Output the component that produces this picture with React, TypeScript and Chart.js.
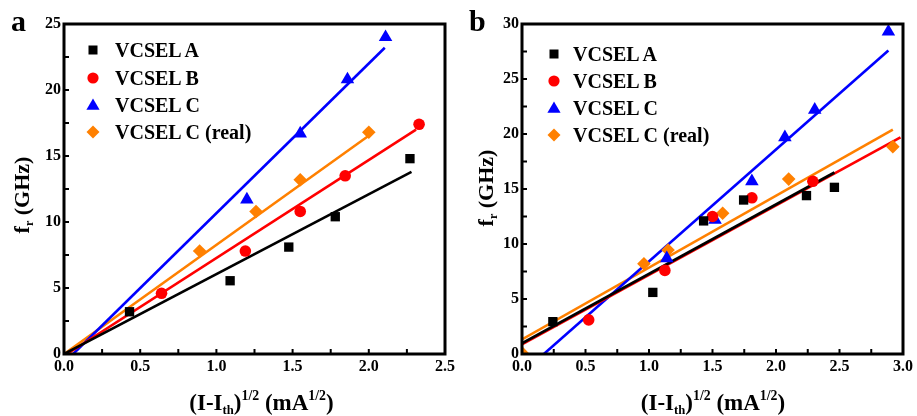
import React, { useEffect, useRef } from "react";
import { Chart, registerables } from "chart.js";

Chart.register(...registerables);

// ---------- data ----------
const seriesNames = ["VCSEL A", "VCSEL B", "VCSEL C", "VCSEL C (real)"];
const seriesColors = ["#000000", "#ff0000", "#0000ff", "#ff8000"];

// panel a : measured points
const aAx = [0.43, 1.09, 1.475, 1.78, 2.27];
const aAy = [3.2, 5.55, 8.1, 10.4, 14.8];
const aBx = [0.64, 1.19, 1.55, 1.845, 2.33];
const aBy = [4.6, 7.8, 10.8, 13.5, 17.4];
const aCx = [1.2, 1.55, 1.86, 2.11];
const aCy = [11.7, 16.7, 20.8, 24.0];
const aRx = [0.89, 1.26, 1.55, 2.0];
const aRy = [7.8, 10.8, 13.2, 16.8];
// panel a : linear fits (start/end)
const aFitAx = [0.0, 2.28];
const aFitAy = [0.0, 13.8];
const aFitBx = [0.02, 2.31];
const aFitBy = [0.0, 17.0];
const aFitCx = [0.06, 2.105];
const aFitCy = [0.0, 23.2];
const aFitRx = [0.0, 2.02];
const aFitRy = [0.0, 16.7];

// panel b : measured points
const bAx = [0.243, 1.03, 1.43, 1.745, 2.24, 2.46];
const bAy = [2.94, 5.6, 12.1, 14.0, 14.4, 15.15];
const bBx = [0.525, 1.125, 1.5, 1.81, 2.29];
const bBy = [3.1, 7.6, 12.5, 14.2, 15.7];
const bCx = [1.14, 1.52, 1.81, 2.07, 2.305, 2.885];
const bCy = [8.7, 12.2, 15.7, 19.7, 22.2, 29.3];
const bRx = [0.0, 0.96, 1.15, 1.58, 2.1, 2.92];
const bRy = [0.1, 8.2, 9.45, 12.8, 15.9, 18.85];
// panel b : linear fits
const bFitAx = [0.0, 2.46];
const bFitAy = [0.97, 16.5];
const bFitBx = [0.0, 2.98];
const bFitBy = [0.88, 19.7];
const bFitCx = [0.172, 2.885];
const bFitCy = [0.0, 27.6];
const bFitRx = [0.0, 2.92];
const bFitRy = [1.33, 20.4];

// axes
const aXMax = 2.5;
const bXMax = 3.0;
const aYMax = 25;
const bYMax = 30;

const pointStyles = ["rect", "circle", "triangle", "rectRot"];
const pointRadii = [6.6, 5.8, 7.8, 6.8];

const zip = (xs: number[], ys: number[]) => xs.map((x, i) => ({ x, y: ys[i] }));

const framePlugin = {
  id: "frame",
  afterDatasetsDraw(chart: any) {
    const { ctx, chartArea: a, scales } = chart;
    const xs = scales.x;
    const ys = scales.y;
    ctx.save();
    ctx.strokeStyle = "#000";
    ctx.lineWidth = 2;
    ctx.beginPath();
    for (let v = xs.min; v <= xs.max + 1e-9; v += 0.25) {
      const px = xs.getPixelForValue(v);
      ctx.moveTo(px, a.bottom);
      ctx.lineTo(px, a.bottom - 5);
    }
    for (let v = ys.min; v <= ys.max + 1e-9; v += 2.5) {
      const py = ys.getPixelForValue(v);
      ctx.moveTo(a.left, py);
      ctx.lineTo(a.left + 5, py);
    }
    ctx.stroke();
    ctx.lineWidth = 3;
    ctx.strokeRect(a.left, a.top, a.right - a.left, a.bottom - a.top);
    ctx.restore();
  },
};

type PanelData = {
  pts: [number[], number[]][];
  fits: [number[], number[]][];
  xMax: number;
  yMax: number;
};

function PanelChart({ d, left }: { d: PanelData; left: number }) {
  const ref = useRef<HTMLCanvasElement | null>(null);
  useEffect(() => {
    if (!ref.current) return;
    const datasets: any[] = [];
    d.pts.forEach(([xs, ys], i) => {
      datasets.push({
        label: seriesNames[i],
        data: zip(xs, ys),
        showLine: false,
        pointStyle: pointStyles[i],
        pointRadius: pointRadii[i],
        pointBackgroundColor: seriesColors[i],
        pointBorderColor: seriesColors[i],
        pointBorderWidth: 0,
        order: 0,
        clip: 0,
      });
    });
    d.fits.forEach(([xs, ys], i) => {
      datasets.push({
        label: seriesNames[i] + " fit",
        data: zip(xs, ys),
        showLine: true,
        borderColor: seriesColors[i],
        borderWidth: 2.6,
        pointRadius: 0,
        order: 1,
        clip: 0,
      });
    });
    const tickFont = { family: "'Liberation Serif', serif", size: 16, weight: "bold" as const };
    const chart = new Chart(ref.current, {
      type: "scatter",
      data: { datasets },
      options: {
        animation: false,
        responsive: false,
        maintainAspectRatio: false,
        layout: { padding: { top: 24, right: 11, left: 0, bottom: 0 } },
        plugins: { legend: { display: false }, tooltip: { enabled: false } },
        scales: {
          x: {
            type: "linear",
            min: 0,
            max: d.xMax,
            grid: { display: false, drawTicks: false },
            border: { display: false },
            ticks: {
              stepSize: 0.5,
              padding: 3,
              color: "#000",
              font: tickFont,
              maxRotation: 0,
              autoSkip: false,
              callback: (v: any) => Number(v).toFixed(1),
            },
            afterFit: (s: any) => {
              s.height = 62;
            },
          },
          y: {
            type: "linear",
            min: 0,
            max: d.yMax,
            grid: { display: false, drawTicks: false },
            border: { display: false },
            ticks: {
              stepSize: 5,
              padding: 3,
              color: "#000",
              font: tickFont,
              autoSkip: false,
            },
            afterFit: (s: any) => {
              s.width = 64;
            },
          },
        },
      } as any,
      plugins: [framePlugin],
    });
    return () => chart.destroy();
  }, [d]);
  return (
    <canvas
      ref={ref}
      width={458}
      height={416}
      style={{ position: "absolute", left, top: 0, width: 458, height: 416 }}
    />
  );
}

function Marker({ i }: { i: number }) {
  const c = seriesColors[i];
  let shape: React.ReactNode = null;
  if (i === 0) shape = <rect x={2.5} y={2.5} width={9} height={9} fill={c} />;
  if (i === 1) shape = <circle cx={7} cy={7} r={5.6} fill={c} />;
  if (i === 2) shape = <polygon points="7,0.5 13.6,11.8 0.4,11.8" fill={c} />;
  if (i === 3) shape = <polygon points="7,0.5 13.5,7 7,13.5 0.5,7" fill={c} />;
  return (
    <svg width={14} height={14} style={{ position: "absolute", left: -7, top: 3 }}>
      {shape}
    </svg>
  );
}

function Legend({ mx, tx, ys }: { mx: number; tx: number; ys: number[] }) {
  return (
    <>
      {seriesNames.map((n, i) => (
        <div key={n} style={{ position: "absolute", left: 0, top: ys[i] - 10, height: 20 }}>
          <div style={{ position: "absolute", left: mx }}>
            <Marker i={i} />
          </div>
          <div
            style={{
              position: "absolute",
              left: tx,
              top: 0,
              height: 20,
              lineHeight: "20px",
              fontSize: 20,
              fontWeight: "bold",
              whiteSpace: "nowrap",
            }}
          >
            {n}
          </div>
        </div>
      ))}
    </>
  );
}

const supStyle: React.CSSProperties = { fontSize: "0.6em", position: "relative", top: "-0.72em" };
const subStyle: React.CSSProperties = { fontSize: "0.55em", position: "relative", top: "0.35em" };

function XTitle({ cx }: { cx: number }) {
  return (
    <div
      style={{
        position: "absolute",
        left: cx - 150,
        width: 300,
        top: 391,
        height: 23,
        lineHeight: "23px",
        fontSize: 23,
        fontWeight: "bold",
        textAlign: "center",
        whiteSpace: "nowrap",
      }}
    >
      (I-I<span style={subStyle}>th</span>)<span style={supStyle}>1/2</span> (mA
      <span style={supStyle}>1/2</span>)
    </div>
  );
}

function YTitle({ cx, cy }: { cx: number; cy: number }) {
  return (
    <div
      style={{
        position: "absolute",
        left: cx - 80,
        top: cy - 11,
        width: 160,
        height: 22,
        lineHeight: "22px",
        fontSize: 22,
        fontWeight: "bold",
        textAlign: "center",
        whiteSpace: "nowrap",
        transform: "rotate(-90deg)",
      }}
    >
      f<span style={subStyle}>r</span> (GHz)
    </div>
  );
}

function Letter({ x, t }: { x: number; t: string }) {
  return (
    <div
      style={{
        position: "absolute",
        left: x,
        top: 6,
        height: 30,
        lineHeight: "30px",
        fontSize: 30,
        fontWeight: "bold",
      }}
    >
      {t}
    </div>
  );
}

const panelA: PanelData = {
  pts: [
    [aAx, aAy],
    [aBx, aBy],
    [aCx, aCy],
    [aRx, aRy],
  ],
  fits: [
    [aFitAx, aFitAy],
    [aFitBx, aFitBy],
    [aFitCx, aFitCy],
    [aFitRx, aFitRy],
  ],
  xMax: aXMax,
  yMax: aYMax,
};

const panelB: PanelData = {
  pts: [
    [bAx, bAy],
    [bBx, bBy],
    [bCx, bCy],
    [bRx, bRy],
  ],
  fits: [
    [bFitAx, bFitAy],
    [bFitBx, bFitBy],
    [bFitCx, bFitCy],
    [bFitRx, bFitRy],
  ],
  xMax: bXMax,
  yMax: bYMax,
};

export default function App() {
  return (
    <div
      style={{
        position: "fixed",
        left: 0,
        top: 0,
        width: 917,
        height: 416,
        background: "#fff",
        fontFamily: "'Liberation Serif', serif",
        color: "#000",
        overflow: "hidden",
      }}
    >
      <PanelChart d={panelA} left={0} />
      <PanelChart d={panelB} left={458} />
      <Letter x={11} t="a" />
      <Letter x={469} t="b" />
      <Legend mx={93} tx={115} ys={[50, 77.5, 105, 132]} />
      <Legend mx={553.5} tx={573} ys={[54, 81, 108, 135]} />
      <YTitle cx={21.6} cy={195} />
      <YTitle cx={485.6} cy={188} />
      <XTitle cx={261.5} />
      <XTitle cx={713} />
    </div>
  );
}
